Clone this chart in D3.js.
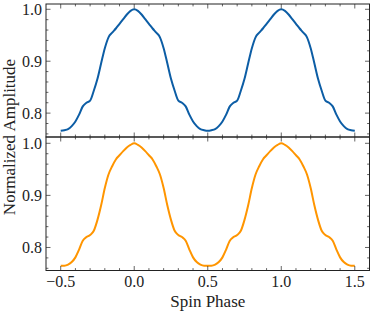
<!DOCTYPE html>
<html>
<head>
<meta charset="utf-8">
<script src="https://cdn.jsdelivr.net/npm/d3@7"></script>
<style>
  body { margin: 0; background: #fff; }
  svg text { font-family: "Liberation Serif", "Times New Roman", serif; fill: #222; }
</style>
</head>
<body>
<svg id="chart" width="374" height="313"></svg>
<script>
// spin phase grid (-0.5 .. 1.5)
var phase = [
  -0.5, -0.475, -0.45, -0.425, -0.4, -0.375, -0.35, -0.325, -0.3, -0.275,
  -0.25, -0.225, -0.2, -0.175, -0.15, -0.125, -0.1, -0.075, -0.05, -0.025,
  0, 0.025, 0.05, 0.075, 0.1, 0.125, 0.15, 0.175, 0.2, 0.225,
  0.25, 0.275, 0.3, 0.325, 0.35, 0.375, 0.4, 0.425, 0.45, 0.475,
  0.5, 0.525, 0.55, 0.575, 0.6, 0.625, 0.65, 0.675, 0.7, 0.725,
  0.75, 0.775, 0.8, 0.825, 0.85, 0.875, 0.9, 0.925, 0.95, 0.975,
  1, 1.025, 1.05, 1.075, 1.1, 1.125, 1.15, 1.175, 1.2, 1.225,
  1.25, 1.275, 1.3, 1.325, 1.35, 1.375, 1.4, 1.425, 1.45, 1.475, 1.5];

// top panel (blue)
var ampTop = [
  0.766, 0.767, 0.769, 0.775, 0.784, 0.797, 0.813, 0.820, 0.824, 0.843,
  0.866, 0.896, 0.925, 0.946, 0.955, 0.963, 0.972, 0.981, 0.990, 0.997,
  1.000, 0.997, 0.990, 0.981, 0.972, 0.963, 0.955, 0.946, 0.925, 0.896,
  0.866, 0.843, 0.824, 0.820, 0.813, 0.797, 0.784, 0.775, 0.769, 0.767,
  0.766, 0.767, 0.769, 0.775, 0.784, 0.797, 0.813, 0.820, 0.824, 0.843,
  0.866, 0.896, 0.925, 0.946, 0.955, 0.963, 0.972, 0.981, 0.990, 0.997,
  1.000, 0.997, 0.990, 0.981, 0.972, 0.963, 0.955, 0.946, 0.925, 0.896,
  0.866, 0.843, 0.824, 0.820, 0.813, 0.797, 0.784, 0.775, 0.769, 0.767, 0.766];

// bottom panel (orange)
var ampBottom = [
  0.765, 0.765, 0.767, 0.772, 0.781, 0.796, 0.813, 0.820, 0.824, 0.832,
  0.853, 0.881, 0.914, 0.940, 0.956, 0.969, 0.977, 0.985, 0.992, 0.997,
  1.000, 0.997, 0.992, 0.985, 0.977, 0.969, 0.956, 0.940, 0.914, 0.881,
  0.853, 0.832, 0.824, 0.820, 0.813, 0.796, 0.781, 0.772, 0.767, 0.765,
  0.765, 0.765, 0.767, 0.772, 0.781, 0.796, 0.813, 0.820, 0.824, 0.832,
  0.853, 0.881, 0.914, 0.940, 0.956, 0.969, 0.977, 0.985, 0.992, 0.997,
  1.000, 0.997, 0.992, 0.985, 0.977, 0.969, 0.956, 0.940, 0.914, 0.881,
  0.853, 0.832, 0.824, 0.820, 0.813, 0.796, 0.781, 0.772, 0.767, 0.765, 0.765];

var xTicks = [-0.5, 0, 0.5, 1, 1.5];
var yTicks = [0.8, 0.9, 1.0];

var svg = d3.select("#chart");
var left = 46, right = 369.5;
var panels = [
  { data: ampTop, color: "#0C5DA5", top: 4, bottom: 137, domain: [0.754, 1.0102], xLabels: false },
  { data: ampBottom, color: "#FF9500", top: 137, bottom: 270.5, domain: [0.7558, 1.0121], xLabels: true }
];

var x = d3.scaleLinear().domain([-0.6, 1.6]).range([left, right]);
var xMinor = d3.range(-0.6, 1.61, 0.1).map(function (v) { return Math.round(v * 10) / 10; })
  .filter(function (v) { return xTicks.indexOf(v) < 0; });
var yMinor = d3.range(0.76, 1.011, 0.02).map(function (v) { return Math.round(v * 100) / 100; })
  .filter(function (v) { return Math.abs(v - 0.8) > 1e-6 && Math.abs(v - 0.9) > 1e-6 && Math.abs(v - 1.0) > 1e-6; });

var fmt = function (d) { return d3.format(".1f")(d).replace("-", "\u2212"); };

panels.forEach(function (p) {
  var y = d3.scaleLinear().domain(p.domain).range([p.bottom, p.top]);
  var g = svg.append("g");

  var line = d3.line()
    .x(function (d, i) { return x(phase[i]); })
    .y(function (d) { return y(d); })
    .curve(d3.curveMonotoneX);

  g.append("path")
    .datum(p.data)
    .attr("d", line)
    .attr("fill", "none")
    .attr("stroke", p.color)
    .attr("stroke-width", 2)
    .attr("stroke-linejoin", "round");

  // ticks on all four sides, pointing inwards
  var tk = g.append("g").attr("stroke", "#222").attr("stroke-width", 0.7);
  function xt(vals, len) {
    vals.forEach(function (v) {
      var px = x(v);
      if (px < left + 0.5 || px > right - 0.5) return;
      tk.append("line").attr("x1", px).attr("x2", px).attr("y1", p.bottom).attr("y2", p.bottom - len);
      tk.append("line").attr("x1", px).attr("x2", px).attr("y1", p.top).attr("y2", p.top + len);
    });
  }
  function yt(vals, len) {
    vals.forEach(function (v) {
      var py = y(v);
      if (py < p.top + 0.5 || py > p.bottom - 0.5) return;
      tk.append("line").attr("x1", left).attr("x2", left + len).attr("y1", py).attr("y2", py);
      tk.append("line").attr("x1", right).attr("x2", right - len).attr("y1", py).attr("y2", py);
    });
  }
  xt(xTicks, 4.5); xt(xMinor, 2.4);
  yt(yTicks, 4.5); yt(yMinor, 2.4);

  g.append("rect")
    .attr("x", left).attr("y", p.top)
    .attr("width", right - left).attr("height", p.bottom - p.top)
    .attr("fill", "none").attr("stroke", "#222").attr("stroke-width", 1);

  g.selectAll(".ylab").data(yTicks).enter().append("text")
    .attr("x", left - 4)
    .attr("y", function (d) { return y(d); })
    .attr("dy", "0.34em")
    .attr("text-anchor", "end")
    .attr("font-size", 16)
    .text(fmt);

  if (p.xLabels) {
    g.selectAll(".xlab").data(xTicks).enter().append("text")
      .attr("x", function (d) { return x(d); })
      .attr("y", 287)
      .attr("text-anchor", "middle")
      .attr("font-size", 16)
      .text(fmt);
  }
});

svg.append("text")
  .attr("x", (left + right) / 2)
  .attr("y", 307)
  .attr("text-anchor", "middle")
  .attr("font-size", 17)
  .text("Spin Phase");

svg.append("text")
  .attr("transform", "translate(15,137) rotate(-90)")
  .attr("text-anchor", "middle")
  .attr("font-size", 17)
  .text("Normalized Amplitude");
</script>
</body>
</html>
